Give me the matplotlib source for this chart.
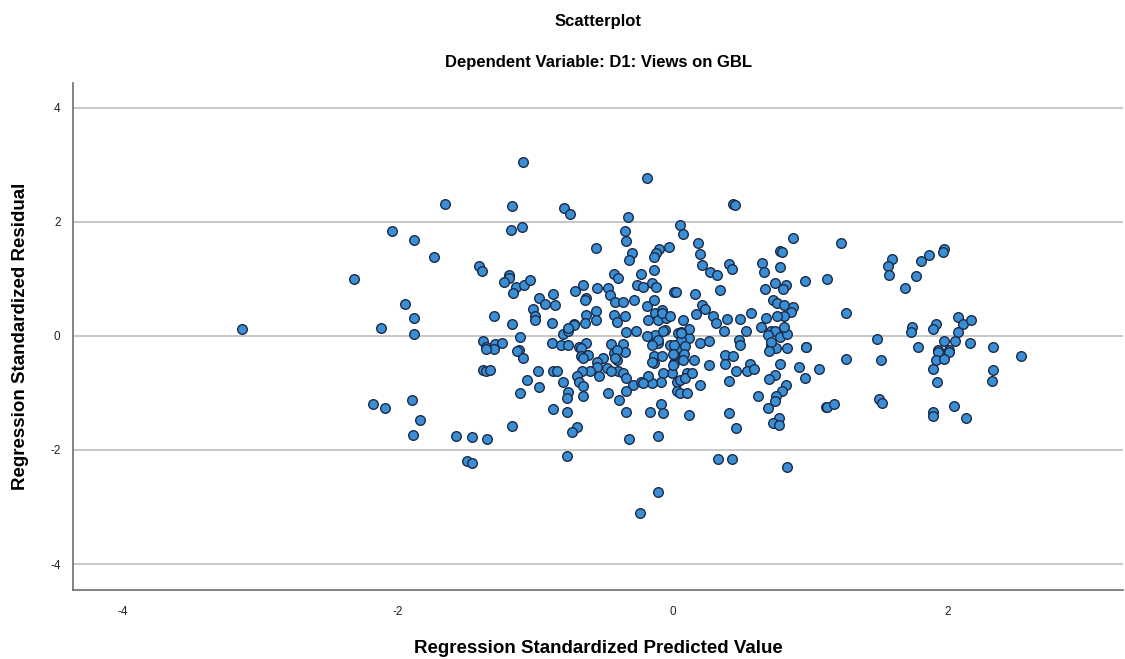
import matplotlib
matplotlib.use("Agg")
import matplotlib.pyplot as plt

plt.rcParams['font.family'] = ['Liberation Sans', 'DejaVu Sans']
plt.rcParams['axes.unicode_minus'] = False

title = "Scatterplot"
subtitle = "Dependent Variable: D1: Views on GBL"
x_label = "Regression Standardized Predicted Value"
y_label = "Regression Standardized Residual"
y_ticks = [-4, -2, 0, 2, 4]
x_ticks = [-4, -2, 0, 2]

# (predicted, residual) pairs
points = [
    (-3.13, 0.12), (-2.32, 1.00), (-2.12, 0.13), (-2.04, 1.83), (-1.95, 0.55),
    (-1.88, 1.68), (-1.88, 0.32), (-1.88, 0.04), (-1.74, 1.38), (-1.66, 2.31),
    (-2.18, -1.19), (-2.09, -1.27), (-1.90, -1.12), (-1.84, -1.47), (-1.89, -1.73),
    (-1.58, -1.76), (-1.46, -1.78), (-1.35, -1.81), (-1.50, -2.19), (-1.46, -2.22),
    (-1.17, -1.58), (-1.41, 1.23), (-1.39, 1.13), (-1.19, 1.06), (-1.19, 1.02),
    (-1.23, 0.95), (-1.14, 0.85), (-1.16, 0.75), (-1.08, 0.89), (-1.04, 0.98),
    (-1.09, 3.05), (-1.17, 2.28), (-1.18, 1.85), (-1.10, 1.90), (-1.30, 0.35),
    (-1.17, 0.20), (-1.11, -0.02), (-1.38, -0.09), (-1.29, -0.15), (-1.24, -0.13),
    (-1.36, -0.20), (-1.12, -0.25), (-1.30, -0.23), (-1.36, -0.23), (-1.13, -0.27),
    (-1.09, -0.39), (-1.38, -0.60), (-1.36, -0.62), (-1.33, -0.60), (-1.06, -0.78),
    (-1.11, -1.00), (-0.19, 2.76), (-0.79, 2.24), (-0.75, 2.13), (-0.33, 2.09),
    (0.05, 1.95), (0.07, 1.79), (-0.35, 1.84), (-0.34, 1.67), (-0.56, 1.54),
    (-0.30, 1.45), (-0.32, 1.33), (-0.03, 1.56), (-0.10, 1.53), (-0.12, 1.46),
    (-0.14, 1.38), (-0.43, 1.09), (-0.40, 1.01), (-0.23, 1.09), (-0.14, 1.16),
    (-0.26, 0.89), (-0.22, 0.86), (-0.15, 0.92), (-0.12, 0.86), (-0.71, 0.79),
    (-0.65, 0.89), (-0.55, 0.84), (-0.47, 0.84), (-0.46, 0.72), (0.01, 0.76),
    (-0.87, 0.74), (-0.97, 0.66), (-0.93, 0.56), (-0.86, 0.54), (-1.02, 0.47),
    (-1.00, 0.34), (-1.00, 0.27), (-0.88, 0.22), (-0.63, 0.66), (-0.64, 0.62),
    (-0.56, 0.43), (-0.56, 0.28), (-0.63, 0.37), (-0.64, 0.22), (-0.72, 0.21),
    (-0.42, 0.59), (-0.36, 0.59), (-0.28, 0.63), (-0.43, 0.37), (-0.41, 0.25),
    (-0.35, 0.34), (-0.19, 0.53), (-0.14, 0.63), (-0.13, 0.40), (-0.18, 0.28),
    (-0.11, 0.28), (-0.08, 0.46), (-0.05, 0.31), (-0.06, 0.11), (-0.13, 0.02),
    (-0.19, -0.01), (-0.11, -0.12), (0.04, 0.05), (-0.80, 0.04), (-0.76, 0.08),
    (-0.72, 0.19), (-0.34, 0.06), (-0.27, 0.08), (-0.88, -0.13), (-0.81, -0.16),
    (-0.76, -0.16), (-0.68, -0.19), (-0.63, -0.12), (-0.45, -0.14), (-0.36, -0.14),
    (-0.02, -0.16), (-0.67, -0.22), (-0.67, -0.36), (-0.62, -0.33), (-0.35, -0.29),
    (-0.43, -0.30), (-0.41, -0.42), (-0.51, -0.39), (-0.55, -0.45), (-0.48, -0.57),
    (-0.55, -0.54), (-0.60, -0.61), (-0.66, -0.62), (-0.70, -0.71), (-0.68, -0.80),
    (-0.54, -0.71), (-0.40, -0.62), (-0.45, -0.61), (-0.36, -0.65), (-0.34, -0.74),
    (-0.29, -0.86), (-0.34, -0.97), (-0.39, -1.13), (-0.47, -1.00), (-0.65, -0.88),
    (-0.65, -1.06), (-0.76, -0.99), (-0.77, -1.09), (-0.80, -0.80), (-0.87, -0.62),
    (-0.84, -0.62), (-0.98, -0.62), (-0.97, -0.90), (-0.87, -1.28), (-0.77, -1.34),
    (-0.70, -1.59), (-0.73, -1.69), (-0.77, -2.10), (-0.32, -1.80), (-0.34, -1.33),
    (-0.17, -1.33), (-0.09, -1.19), (-0.07, -1.35), (-0.11, -1.76), (-0.11, -2.74),
    (-0.24, -3.11), (-0.07, 0.08), (0.03, -0.30), (-0.14, -0.36), (-0.14, -0.48),
    (-0.08, -0.36), (0.01, -0.48), (-0.01, -0.65), (0.03, -0.80), (-0.07, -0.65),
    (-0.09, -0.80), (-0.15, -0.82), (-0.18, -0.71), (-0.23, -0.80), (0.03, -0.97),
    (-0.08, 0.40), (-0.11, -0.07), (-0.15, -0.16), (-0.41, -0.25), (-0.42, -0.39),
    (0.01, -0.33), (0.05, -0.22), (0.12, -0.04), (0.20, -0.13), (-0.15, -0.45),
    (0.10, -0.65), (-0.22, -0.83), (0.05, -0.77), (-0.65, -0.39), (-0.76, 0.13),
    (0.44, 2.31), (0.45, 2.29), (0.87, 1.71), (0.18, 1.62), (0.20, 1.43),
    (0.21, 1.24), (0.27, 1.12), (0.32, 1.06), (0.41, 1.26), (0.43, 1.17),
    (0.78, 1.49), (0.79, 1.47), (0.65, 1.27), (0.66, 1.12), (0.78, 1.21),
    (0.96, 0.96), (1.12, 1.00), (0.34, 0.81), (0.02, 0.76), (0.16, 0.73),
    (0.67, 0.82), (0.74, 0.93), (0.82, 0.89), (0.80, 0.82), (0.21, 0.54),
    (0.23, 0.47), (0.17, 0.39), (0.73, 0.63), (0.76, 0.57), (0.81, 0.54),
    (0.87, 0.50), (0.86, 0.41), (0.81, 0.35), (0.76, 0.34), (0.68, 0.32),
    (0.57, 0.40), (0.49, 0.29), (0.39, 0.29), (0.29, 0.34), (0.31, 0.23),
    (0.07, 0.28), (0.12, 0.12), (0.06, 0.06), (0.06, -0.07), (-0.02, 0.34),
    (0.37, 0.08), (0.53, 0.09), (0.64, 0.15), (0.71, 0.08), (0.74, 0.08),
    (0.78, -0.02), (0.83, 0.03), (0.81, 0.15), (0.26, -0.09), (0.48, -0.08),
    (0.49, -0.16), (0.71, -0.16), (0.75, -0.22), (0.83, -0.22), (0.97, -0.19),
    (0.06, 0.05), (0.01, -0.16), (0.09, -0.18), (0.08, -0.32), (0.00, -0.32),
    (0.15, -0.42), (0.07, -0.43), (0.00, -0.51), (0.09, -0.74), (0.14, -0.65),
    (0.05, -1.00), (0.10, -1.00), (0.20, -0.86), (0.26, -0.51), (0.38, -0.33),
    (0.44, -0.35), (0.38, -0.49), (0.56, -0.50), (0.54, -0.62), (0.59, -0.58),
    (0.46, -0.62), (0.41, -0.79), (0.62, -1.05), (0.41, -1.35), (0.46, -1.61),
    (0.12, -1.38), (0.69, 0.02), (0.71, -0.10), (0.70, -0.27), (0.78, -0.50),
    (0.74, -0.68), (0.70, -0.76), (0.82, -0.86), (0.79, -0.96), (0.75, -1.06),
    (0.74, -1.15), (0.69, -1.27), (0.77, -1.44), (0.73, -1.52), (0.77, -1.56),
    (0.92, -0.54), (0.96, -0.74), (0.97, -0.20), (1.06, -0.58), (1.11, -1.24),
    (0.33, -2.16), (0.43, -2.16), (0.83, -2.29), (1.22, 1.62), (1.26, 0.40),
    (1.59, 1.35), (1.56, 1.22), (1.57, 1.06), (1.69, 0.84), (1.77, 1.05),
    (1.80, 1.32), (1.86, 1.42), (1.97, 1.52), (1.96, 1.47), (1.48, -0.05),
    (1.74, 0.15), (1.73, 0.07), (1.91, 0.21), (1.89, 0.12), (2.07, 0.33),
    (2.11, 0.21), (2.17, 0.28), (2.07, 0.07), (1.97, -0.09), (2.05, -0.09),
    (2.16, -0.12), (1.78, -0.20), (1.93, -0.25), (2.01, -0.25), (2.33, -0.20),
    (1.93, -0.29), (2.01, -0.29), (1.91, -0.42), (1.97, -0.41), (1.89, -0.58),
    (1.92, -0.81), (2.53, -0.36), (2.33, -0.60), (2.32, -0.79), (1.26, -0.41),
    (1.51, -0.42), (1.12, -1.24), (1.17, -1.20), (1.50, -1.11), (1.52, -1.18),
    (1.89, -1.34), (1.89, -1.41), (2.04, -1.23), (2.13, -1.44),
]
predicted = [p[0] for p in points]
residual = [p[1] for p in points]

fig = plt.figure(figsize=(11.25, 6.59), dpi=100)
ax = fig.add_axes([0.065, 0.105, 0.933, 0.769])

ax.scatter(predicted, residual, s=48, c='#3a8fd4', edgecolors='#1c2a48',
           linewidths=1.0, zorder=3)

ax.set_xlim(-4.36, 3.27)
ax.set_ylim(-4.45, 4.43)
ax.set_xticks(x_ticks)
ax.set_yticks(y_ticks)
ax.yaxis.grid(True, color='#bdbdbd', linewidth=1.2, zorder=0)
ax.xaxis.grid(False)
ax.tick_params(length=0, labelsize=8.5, colors='#222222')
ax.tick_params(axis='x', pad=12)
ax.tick_params(axis='y', pad=9)
for side in ['top', 'right']:
    ax.spines[side].set_visible(False)
for side in ['left', 'bottom']:
    ax.spines[side].set_color('#6e6e6e')
    ax.spines[side].set_linewidth(1.2)

fig.text(0.532, 0.968, title, ha='center', va='center', fontsize=12, fontweight='bold')
fig.text(0.532, 0.905, subtitle, ha='center', va='center', fontsize=12, fontweight='bold')
fig.text(0.532, 0.016, x_label, ha='center', va='center', fontsize=13.5, fontweight='bold')
fig.text(0.018, 0.49, y_label, ha='center', va='center', rotation=90,
         fontsize=13.5, fontweight='bold')

fig.savefig('out.png', dpi=100)
